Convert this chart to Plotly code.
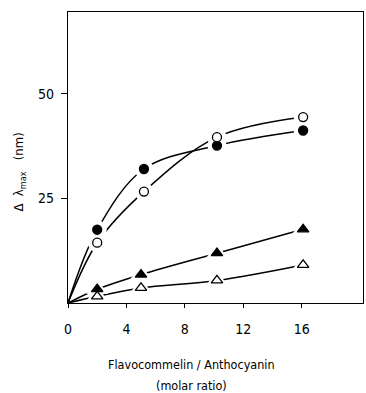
import plotly.graph_objects as go

# Molar ratio flavocommelin / anthocyanin and shift of absorption maximum (nm)
ratio_circle = [0, 2, 5.2, 10.2, 16.1]
ratio_triangle = [0, 2, 5.0, 10.2, 16.1]

shift_filled_circle = [0, 17.5, 32.0, 37.6, 41.2]
shift_open_circle = [0, 14.4, 26.6, 39.6, 44.4]
shift_filled_triangle = [0, 3.3, 6.8, 11.9, 17.6]
shift_open_triangle = [0, 1.6, 3.6, 5.4, 9.1]

x_ticks = [0, 4, 8, 12, 16]
y_ticks = [25, 50]

series = [
    (ratio_circle, shift_filled_circle, "circle", "black"),
    (ratio_circle, shift_open_circle, "circle", "white"),
    (ratio_triangle, shift_filled_triangle, "triangle-up", "black"),
    (ratio_triangle, shift_open_triangle, "triangle-up", "white"),
]

FONT = "DejaVu Sans Condensed, Liberation Sans, sans-serif"
fig = go.Figure()

# smooth curves from the origin
for xs, ys, sym, fill in series:
    fig.add_trace(go.Scatter(
        x=xs, y=ys, mode="lines",
        line=dict(color="black", width=1.5, shape="spline", smoothing=1.0),
        hoverinfo="skip", showlegend=False))

# white halos leave a small gap in the curves around each point
for xs, ys, sym, fill in series:
    fig.add_trace(go.Scatter(
        x=xs[1:], y=ys[1:], mode="markers",
        marker=dict(symbol=sym, size=19, color="white", line=dict(width=0)),
        hoverinfo="skip", showlegend=False))

for xs, ys, sym, fill in series:
    fig.add_trace(go.Scatter(
        x=xs[1:], y=ys[1:], mode="markers",
        marker=dict(symbol=sym, size=9 if sym == "circle" else 10,
                    color=fill, line=dict(color="black", width=1.3)),
        showlegend=False))

fig.update_xaxes(
    range=[0, 20.2], tickvals=x_ticks, ticktext=[str(v) for v in x_ticks],
    ticks="outside", ticklen=4, tickwidth=1, tickcolor="black",
    ticklabelstandoff=9,
    showline=True, linecolor="black", linewidth=1.2, mirror=True,
    showgrid=False, zeroline=False,
    tickfont=dict(family=FONT, size=14, color="black"))
fig.update_yaxes(
    range=[0, 69.5], tickvals=y_ticks, ticktext=[str(v) for v in y_ticks],
    ticks="outside", ticklen=6, tickwidth=1, tickcolor="black",
    ticklabelstandoff=4,
    showline=True, linecolor="black", linewidth=1.2, mirror=True,
    showgrid=False, zeroline=False,
    tickfont=dict(family=FONT, size=14, color="black"))

fig.add_annotation(
    text="Flavocommelin / Anthocyanin", xref="paper", yref="paper",
    x=0.42, y=-0.212, yanchor="middle", showarrow=False,
    font=dict(family=FONT, size=12.5, color="black"))
fig.add_annotation(
    text="(molar ratio)", xref="paper", yref="paper",
    x=0.42, y=-0.285, yanchor="middle", showarrow=False,
    font=dict(family=FONT, size=12.5, color="black"))
fig.add_annotation(
    text="Δ  λ<sub>max</sub>   (nm)", xref="paper", yref="paper",
    x=-0.2, y=0.45, textangle=-90, showarrow=False,
    font=dict(family=FONT, size=13, color="black"))

fig.update_layout(
    width=366, height=393,
    margin=dict(l=68, r=3, t=12, b=90),
    paper_bgcolor="white", plot_bgcolor="white",
)

fig.write_html("out.html")
